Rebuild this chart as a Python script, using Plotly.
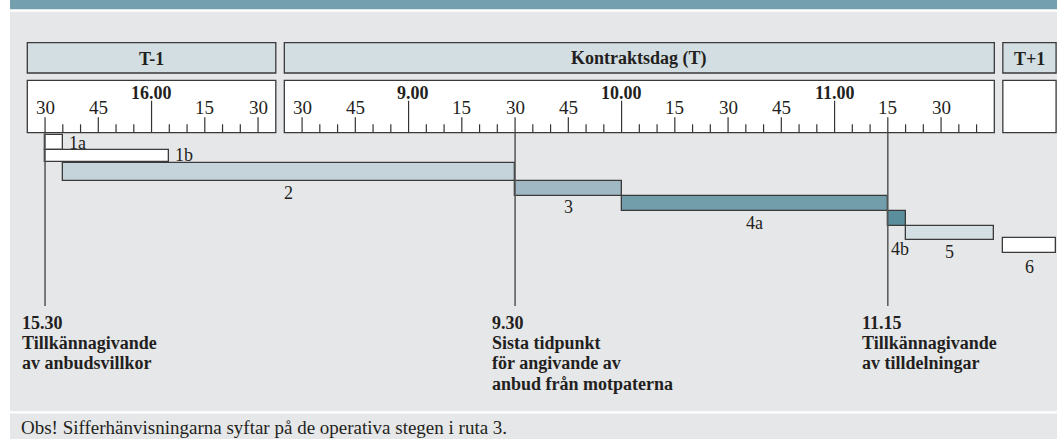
import plotly.graph_objects as go

# ---------------- data ----------------
day_names = ["T-1", "Kontraktsdag (T)", "T+1"]
day_first = ["15:25", "08:25", "00:00"]      # clock time at left edge of each day panel
day_last = ["16:35", "11:45", "00:15"]       # clock time at right edge of each day panel
tick_first = ["15:30", "08:30", None]
tick_last = ["16:30", "11:40", None]
tick_step_min = 5

steps = ["1a", "1b", "2", "3", "4a", "4b", "5", "6"]
step_start_day = [0, 0, 0, 1, 1, 1, 1, 2]
step_start = ["15:30", "15:30", "15:35", "09:30", "10:00", "11:15", "11:20", "00:00"]
step_end_day = [0, 0, 1, 1, 1, 1, 1, 2]
step_end = ["15:35", "16:05", "09:30", "10:00", "11:15", "11:20", "11:45", "00:15"]

milestone_day = [0, 1, 1]
milestone_time = ["15:30", "09:30", "11:15"]
milestone_lines = [
    ["15.30", "Tillkännagivande", "av anbudsvillkor"],
    ["9.30", "Sista tidpunkt", "för angivande av", "anbud från motpaterna"],
    ["11.15", "Tillkännagivande", "av tilldelningar"],
]
note = "Obs! Sifferhänvisningarna syftar på de operativa stegen i ruta 3."

# ---------------- style / layout ----------------
W, H = 1057, 439
PX_PER_MIN = 3.55
X0_PX = 27.3
GAP = 2.4
FONT = '"Liberation Serif", "Times New Roman", Times, serif'
INK = "#231f20"
EDGE = "#3a3a3a"
PANEL = "#e6e7e9"
TEAL = "#739fae"
HEAD_FILL = "#d3dee3"
step_colors = ["#ffffff", "#ffffff", "#c5d4da", "#a0b8c3", "#729eab",
               "#5b8e9c", "#d3dfe3", "#ffffff"]
step_rows = [(135.3, 150.3), (150.3, 162.3), (162.7, 180.7), (180.7, 195.7),
             (195.7, 210.7), (210.7, 225.7), (225.7, 240.3), (237.7, 252.7)]
label_place = [("right", 4, 142.8), ("right", 4, 155.0), ("center", 0, 193.3),
               ("center", 0, 207.2), ("center", 0, 223.3), ("center", 3, 249.0),
               ("center", 0, 252.2), ("center", 0, 266.7)]
head_y = (42.7, 73.0)
ruler_y = (80.3, 132.7)
tick_top = {"hour": 100.7, "major": 117.3, "minor": 124.3}
milestone_bottom = 306.0
milestone_text_shift = [-25, -25, -28]
milestone_text_y0 = 323.0
milestone_line_gap = 20.2


def mins(s):
    h, m = s.split(":")
    return int(h) * 60 + int(m)


offsets = []
acc = 0.0
for a, b in zip(day_first, day_last):
    offsets.append(acc)
    acc += mins(b) - mins(a) + GAP


def xpos(day, t):
    return offsets[day] + mins(t) - mins(day_first[day])


fig = go.Figure()
shapes = []
ann = []

# background panels
shapes.append(dict(type="rect", xref="paper", yref="y", x0=10 / W, x1=1, y0=0, y1=9.3,
                   fillcolor=TEAL, line=dict(width=0), layer="below"))
shapes.append(dict(type="rect", xref="paper", yref="y", x0=10 / W, x1=1, y0=11.7, y1=411.3,
                   fillcolor=PANEL, line=dict(width=0), layer="below"))
shapes.append(dict(type="rect", xref="paper", yref="y", x0=10 / W, x1=1, y0=413.6, y1=H,
                   fillcolor=PANEL, line=dict(width=0), layer="below"))

# day header boxes and rulers
for d, name in enumerate(day_names):
    xa, xb = xpos(d, day_first[d]), xpos(d, day_last[d])
    shapes.append(dict(type="rect", xref="x", yref="y", x0=xa, x1=xb, y0=head_y[0], y1=head_y[1],
                       fillcolor=HEAD_FILL, line=dict(color=EDGE, width=1.3), layer="below"))
    shapes.append(dict(type="rect", xref="x", yref="y", x0=xa, x1=xb, y0=ruler_y[0], y1=ruler_y[1],
                       fillcolor="#ffffff", line=dict(color=EDGE, width=1.3), layer="below"))
    ann.append(dict(x=(xa + xb) / 2, y=(head_y[0] + head_y[1]) / 2 + 1, xref="x", yref="y",
                    text=f"<b>{name}</b>", showarrow=False, xanchor="center", yanchor="middle",
                    font=dict(family=FONT, size=18, color=INK)))

# ruler ticks and labels
tx, ty = [], []
for d in range(len(day_names)):
    if tick_first[d] is None:
        continue
    t = mins(tick_first[d])
    while t <= mins(tick_last[d]):
        hh, mm = divmod(t, 60)
        tstr = f"{hh:02d}:{mm:02d}"
        x = xpos(d, tstr)
        kind = "hour" if mm == 0 else ("major" if mm % 15 == 0 else "minor")
        tx += [x, x, None]
        ty += [tick_top[kind], ruler_y[1], None]
        if kind == "hour":
            lab = f"{hh}.00"
            shift = (0.5 - 0.25 * len(str(hh))) * 18
            ann.append(dict(x=x, y=92.7, xref="x", yref="y", text=f"<b>{lab}</b>", showarrow=False,
                            xanchor="center", yanchor="middle", xshift=shift,
                            font=dict(family=FONT, size=18, color=INK)))
        elif kind == "major":
            ann.append(dict(x=x, y=107.8, xref="x", yref="y", text=f"{mm:02d}", showarrow=False,
                            xanchor="center", yanchor="middle",
                            font=dict(family=FONT, size=19, color=INK)))
        t += tick_step_min
fig.add_trace(go.Scatter(x=tx, y=ty, mode="lines", line=dict(color="#333333", width=1.2),
                         hoverinfo="skip", showlegend=False))

# milestone lines
mx, my = [], []
for d, t in zip(milestone_day, milestone_time):
    x = xpos(d, t)
    mx += [x, x, None]
    my += [ruler_y[1], milestone_bottom, None]
fig.add_trace(go.Scatter(x=mx, y=my, mode="lines", line=dict(color="#555555", width=1.5),
                         hoverinfo="skip", showlegend=False))

# step bars
x0s = [xpos(d, t) for d, t in zip(step_start_day, step_start)]
x1s = [xpos(d, t) for d, t in zip(step_end_day, step_end)]
fig.add_trace(go.Bar(
    orientation="h",
    base=x0s,
    x=[b - a for a, b in zip(x0s, x1s)],
    y=[(r0 + r1) / 2 for r0, r1 in step_rows],
    width=[r1 - r0 for r0, r1 in step_rows],
    marker=dict(color=step_colors, line=dict(color=EDGE, width=1.3)),
    hoverinfo="skip", showlegend=False,
))

# step labels
for i, s in enumerate(steps):
    mode, dx, ly = label_place[i]
    if mode == "right":
        ann.append(dict(x=x1s[i], y=ly, xref="x", yref="y", text=s, showarrow=False,
                        xanchor="left", yanchor="middle", xshift=dx,
                        font=dict(family=FONT, size=18, color=INK)))
    else:
        ann.append(dict(x=(x0s[i] + x1s[i]) / 2, y=ly, xref="x", yref="y", text=s, showarrow=False,
                        xanchor="center", yanchor="middle", xshift=dx,
                        font=dict(family=FONT, size=18, color=INK)))

# milestone texts
for k, (d, t) in enumerate(zip(milestone_day, milestone_time)):
    x = xpos(d, t)
    for j, line in enumerate(milestone_lines[k]):
        ann.append(dict(x=x, y=milestone_text_y0 + j * milestone_line_gap, xref="x", yref="y",
                        text=f"<b>{line}</b>", showarrow=False, xanchor="left", yanchor="middle",
                        xshift=milestone_text_shift[k],
                        font=dict(family=FONT, size=18, color=INK)))

# footnote
ann.append(dict(x=19 / W, y=427.8, xref="paper", yref="y", text=note, showarrow=False,
                xanchor="left", yanchor="middle", font=dict(family=FONT, size=19, color=INK)))

fig.update_layout(
    width=W, height=H,
    margin=dict(l=0, r=0, t=0, b=0, pad=0),
    paper_bgcolor="#ffffff", plot_bgcolor="rgba(0,0,0,0)",
    font=dict(family=FONT),
    xaxis=dict(range=[-X0_PX / PX_PER_MIN, (W - X0_PX) / PX_PER_MIN], visible=False,
               showgrid=False, zeroline=False, fixedrange=True),
    yaxis=dict(range=[H, 0], visible=False, showgrid=False, zeroline=False, fixedrange=True),
    shapes=shapes, annotations=ann, showlegend=False, bargap=0,
)

fig.write_html(
    "out.html",
    config={"displayModeBar": False},
    post_script="document.body.style.margin='0';document.body.style.overflow='hidden';",
)
